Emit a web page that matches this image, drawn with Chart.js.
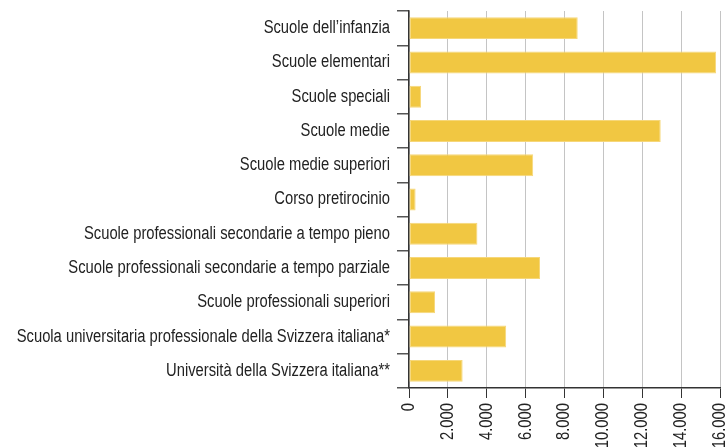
<!DOCTYPE html>
<html>
<head>
<meta charset="utf-8">
<script src="https://cdn.jsdelivr.net/npm/chart.js@4.4.4/dist/chart.umd.min.js"></script>
<style>
  html, body { margin: 0; padding: 0; background: #fff; }
  #wrap { width: 728px; height: 447px; position: relative; }
</style>
</head>
<body>
<div id="wrap"><canvas id="chart"></canvas></div>
<script>
// categories (top to bottom)
var categories = [
  "Scuole dell\u2019infanzia",
  "Scuole elementari",
  "Scuole speciali",
  "Scuole medie",
  "Scuole medie superiori",
  "Corso pretirocinio",
  "Scuole professionali secondarie a tempo pieno",
  "Scuole professionali secondarie a tempo parziale",
  "Scuole professionali superiori",
  "Scuola universitaria professionale della Svizzera italiana*",
  "Universit\u00e0 della Svizzera italiana**"
];

// students per school type
var students = [8680, 15800, 620, 12950, 6390, 340, 3520, 6740, 1340, 5000, 2760];

// x axis
var xMin = 0;
var xMax = 16000;
var xStep = 2000;

var barColor = '#f1c742';
var font = { family: '"Liberation Sans", Arial, sans-serif', size: 18 };
// no condensed face installed: squeeze the text horizontally instead
var squeeze = 0.82;

// thousands with a dot, like the original
function fmt(v) {
  return String(v).replace(/\B(?=(\d{3})+(?!\d))/g, '.');
}

var canvas = document.getElementById('chart');
var ctx = canvas.getContext('2d');
var fillText = ctx.fillText;
ctx.fillText = function (text, x, y, maxWidth) {
  this.save();
  this.translate(x, y);
  this.scale(squeeze, 1);
  if (maxWidth === undefined) fillText.call(this, text, 0, 0);
  else fillText.call(this, text, 0, 0, maxWidth / squeeze);
  this.restore();
};

new Chart(ctx, {
  type: 'bar',
  data: {
    labels: categories,
    datasets: [{
      data: students,
      backgroundColor: barColor,
      borderColor: '#f6d77a',
      borderWidth: 1,
      borderSkipped: false,
      categoryPercentage: 0.64,
      barPercentage: 1
    }]
  },
  options: {
    indexAxis: 'y',
    responsive: true,
    maintainAspectRatio: false,
    animation: false,
    layout: { padding: { top: 11, right: 8, left: 0, bottom: 0 } },
    plugins: {
      legend: { display: false },
      tooltip: { enabled: false }
    },
    scales: {
      x: {
        min: xMin,
        max: xMax,
        afterFit: function (scale) {
          scale.height = 59;
          // let the last label run off the edge like in the original
          scale.paddingLeft = 0;
          scale.paddingRight = 0;
        },
        ticks: {
          stepSize: xStep,
          minRotation: 90,
          maxRotation: 90,
          padding: 5,
          color: '#222',
          font: font,
          callback: function (v) { return fmt(v); }
        },
        grid: {
          color: '#c4c4c4',
          lineWidth: 1,
          tickColor: '#333',
          tickLength: 10
        },
        border: { color: '#333', width: 1.5 }
      },
      y: {
        afterFit: function (scale) {
          scale.width = 409;
          scale.paddingTop = 0;
          scale.paddingBottom = 0;
        },
        ticks: {
          padding: 7,
          color: '#222',
          font: font
        },
        grid: {
          drawOnChartArea: false,
          tickColor: '#555',
          tickLength: 12,
          lineWidth: 1.5
        },
        border: { color: '#333', width: 1.5 }
      }
    }
  }
});
</script>
</body>
</html>
